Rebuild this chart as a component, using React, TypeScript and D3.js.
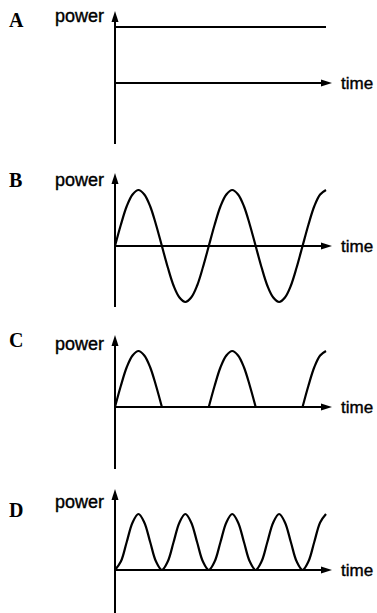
import React from "react";
import * as d3 from "d3";

// Panel letters and axis labels
const panelLabels = ["A", "B", "C", "D"];
const yLabel = "power";
const xLabel = "time";

// Time grid (units of half a period of wave B)
const tGrid = [
  0, 0.125, 0.25, 0.375, 0.5, 0.625, 0.75, 0.875,
  1, 1.125, 1.25, 1.375, 1.5, 1.625, 1.75, 1.875,
  2, 2.125, 2.25, 2.375, 2.5, 2.625, 2.75, 2.875,
  3, 3.125, 3.25, 3.375, 3.5, 3.625, 3.75, 3.875,
  4, 4.125, 4.25, 4.375, 4.5,
];

// A: constant power
const seriesA = [
  1, 1, 1, 1, 1, 1, 1, 1, 1, 1, 1, 1, 1, 1, 1, 1, 1, 1, 1,
  1, 1, 1, 1, 1, 1, 1, 1, 1, 1, 1, 1, 1, 1, 1, 1, 1, 1,
];
// B: alternating sine wave
const seriesB = [
  0, 0.38, 0.71, 0.92, 1, 0.92, 0.71, 0.38,
  0, -0.38, -0.71, -0.92, -1, -0.92, -0.71, -0.38,
  0, 0.38, 0.71, 0.92, 1, 0.92, 0.71, 0.38,
  0, -0.38, -0.71, -0.92, -1, -0.92, -0.71, -0.38,
  0, 0.38, 0.71, 0.92, 1,
];
// C: half-wave rectified (null = lying on the time axis)
const seriesC = [
  0, 0.38, 0.71, 0.92, 1, 0.92, 0.71, 0.38,
  0, null, null, null, null, null, null, null,
  0, 0.38, 0.71, 0.92, 1, 0.92, 0.71, 0.38,
  0, null, null, null, null, null, null, null,
  0, 0.38, 0.71, 0.92, 1,
];
// D: squared sine (always positive, twice the frequency)
const seriesD = [
  0, 0.15, 0.5, 0.85, 1, 0.85, 0.5, 0.15,
  0, 0.15, 0.5, 0.85, 1, 0.85, 0.5, 0.15,
  0, 0.15, 0.5, 0.85, 1, 0.85, 0.5, 0.15,
  0, 0.15, 0.5, 0.85, 1, 0.85, 0.5, 0.15,
  0, 0.15, 0.5, 0.85, 1,
];

const allSeries = [seriesA, seriesB, seriesC, seriesD];

// Layout per panel (baseline y, axis top, axis bottom)
const baselines = [83, 246, 407, 570];
const axisTops = [11, 173, 335, 489];
const axisBottoms = [144, 307, 469, 613];
const letterY = [27, 187, 347, 517];
const powerY = [22, 186, 350, 508];

export default function App() {
  const W = 377, H = 613;
  const x0 = 115;
  const x = d3.scaleLinear().domain([0, 4.5]).range([x0, 326]);
  const amp = 56;
  const arrowTipX = 332;

  return (
    <svg width={W} height={H} style={{ position: "absolute", left: 0, top: 0, background: "#fff" }}>
      <rect width={W} height={H} fill="#fff" />
      {panelLabels.map((lab, i) => {
        const base = baselines[i];
        const y = d3.scaleLinear().domain([-1, 1]).range([base + amp, base - amp]);
        const data = tGrid.map((t, k) => ({ t, v: allSeries[i][k] }));
        const line = d3
          .line<{ t: number; v: number | null }>()
          .defined((d) => d.v !== null)
          .x((d) => x(d.t))
          .y((d) => y(d.v as number))
          .curve(i === 0 ? d3.curveLinear : d3.curveCatmullRom.alpha(0.5));
        const path = line(data) || "";
        const top = axisTops[i];
        return (
          <g key={lab}>
            <text x={9} y={letterY[i]} fontFamily="'Liberation Serif', serif" fontWeight="bold" fontSize={20} fill="#000">
              {lab}
            </text>
            <text x={55} y={powerY[i]} fontFamily="'Liberation Sans', Arial, sans-serif" fontSize={18} fill="#000" stroke="#000" strokeWidth={0.4}>
              {yLabel}
            </text>
            {/* y axis */}
            <line x1={x0} x2={x0} y1={top + 8} y2={axisBottoms[i]} stroke="#000" strokeWidth={2} />
            <path d={`M${x0},${top} L${x0 - 3.5},${top + 11} L${x0 + 3.5},${top + 11} Z`} fill="#000" />
            {/* x axis */}
            <line x1={x0} x2={arrowTipX - 8} y1={base} y2={base} stroke="#000" strokeWidth={2} />
            <path d={`M${arrowTipX},${base} L${arrowTipX - 11},${base - 3.5} L${arrowTipX - 11},${base + 3.5} Z`} fill="#000" />
            <text x={341} y={base + 6} fontFamily="'Liberation Sans', Arial, sans-serif" fontSize={17} fill="#000" stroke="#000" strokeWidth={0.4}>
              {xLabel}
            </text>
            <path d={path} fill="none" stroke="#000" strokeWidth={2.2} strokeLinejoin="round" />
          </g>
        );
      })}
    </svg>
  );
}
